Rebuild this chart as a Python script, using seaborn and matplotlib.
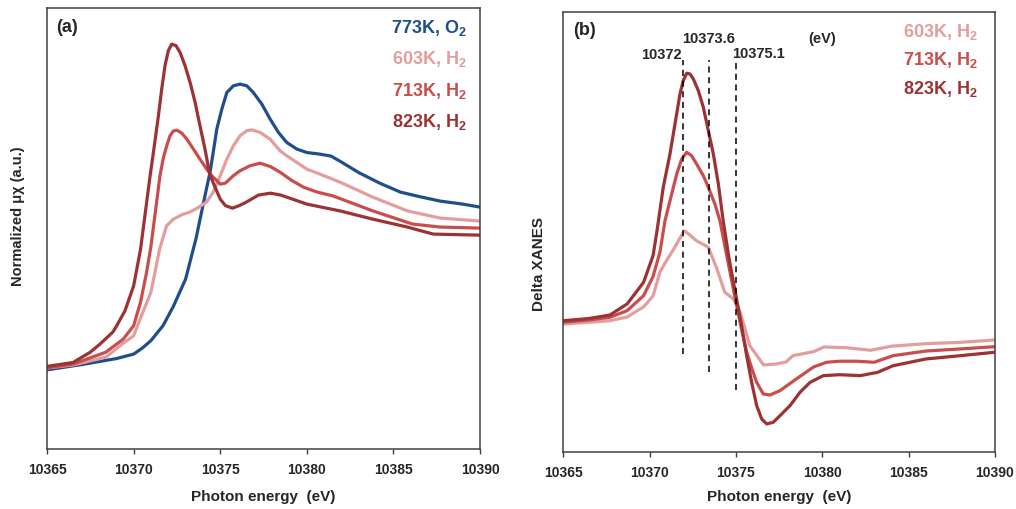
import pandas as pd
import matplotlib
matplotlib.use('Agg')
import matplotlib.pyplot as plt
import seaborn as sns; sns.set_style('ticks')

plt.rcParams['font.family'] = ['Liberation Sans', 'DejaVu Sans']
plt.rcParams['mathtext.fontset'] = 'custom'
plt.rcParams['mathtext.bf'] = 'Liberation Sans:bold'
plt.rcParams['mathtext.rm'] = 'Liberation Sans:bold'
plt.rcParams['mathtext.default'] = 'bf'

# ---- panel (a): normalized XANES ----
E_773 = [10365, 10367, 10369, 10370, 10370.5, 10371, 10371.7, 10372.3, 10373.0, 10373.6,
         10374.2, 10374.41, 10374.6, 10374.8, 10375.09, 10375.38, 10375.76, 10376.14, 10376.53, 10376.91,
         10377.4, 10377.88, 10378.36, 10378.84, 10379.42, 10380.0, 10380.76, 10381.4, 10382.0, 10383.0,
         10384.2, 10385.4, 10386.5, 10387.7, 10389.0, 10390]
mu_773 = [-0.005, 0.03, 0.07, 0.10, 0.14, 0.19, 0.29, 0.42, 0.60, 0.87,
          1.20, 1.311, 1.45, 1.60, 1.733, 1.844, 1.889, 1.90, 1.889, 1.844,
          1.767, 1.667, 1.578, 1.511, 1.467, 1.444, 1.433, 1.42, 1.38, 1.31,
          1.24, 1.18, 1.15, 1.12, 1.10, 1.08]

E_603 = [10365, 10366.5, 10368.4, 10369.4, 10370, 10370.37, 10371, 10371.5, 10371.9, 10372.3,
         10372.8, 10373.25, 10373.7, 10374.2, 10374.6, 10375.0, 10375.38, 10375.76, 10376.14, 10376.53,
         10376.82, 10377.3, 10377.88, 10378.45, 10378.84, 10379.42, 10380.0, 10380.76, 10381.9, 10383.8,
         10385.8, 10387.7, 10390]
mu_603 = [0.007, 0.027, 0.08, 0.173, 0.222, 0.333, 0.513, 0.80, 0.955, 1.00,
          1.03, 1.047, 1.075, 1.113, 1.18, 1.289, 1.40, 1.489, 1.556, 1.589,
          1.595, 1.578, 1.533, 1.456, 1.422, 1.378, 1.333, 1.30, 1.247, 1.147,
          1.055, 1.007, 0.987]

E_713 = [10365, 10366.5, 10368.4, 10369.4, 10370, 10370.4, 10370.75, 10371.0, 10371.3, 10371.52,
         10371.72, 10371.91, 10372.1, 10372.29, 10372.49, 10372.78, 10373.07, 10373.45, 10373.83, 10374.22,
         10374.51, 10375.0, 10375.3, 10375.75, 10376.14, 10376.7, 10377.3, 10377.9, 10378.45, 10379.1,
         10379.8, 10380.6, 10381.5, 10383.8, 10386.1, 10387.7, 10390]
mu_713 = [0.009, 0.033, 0.113, 0.20, 0.289, 0.447, 0.647, 0.82, 1.089, 1.289,
          1.411, 1.489, 1.556, 1.587, 1.593, 1.573, 1.533, 1.467, 1.40, 1.333,
          1.289, 1.233, 1.24, 1.289, 1.322, 1.355, 1.373, 1.35, 1.313, 1.26,
          1.213, 1.18, 1.155, 1.055, 0.967, 0.947, 0.94]

E_823 = [10365, 10366.5, 10367.5, 10368.06, 10368.8, 10369.02, 10369.5, 10370, 10370.4, 10370.95,
         10371.14, 10371.43, 10371.62, 10371.81, 10372.0, 10372.2, 10372.45, 10372.68, 10372.97, 10373.26,
         10373.55, 10373.83, 10374.12, 10374.37, 10374.6, 10375.0, 10375.3, 10375.7, 10376.1, 10376.5,
         10377.2, 10377.9, 10378.5, 10379.0, 10380.0, 10381.9, 10383.8, 10385.8, 10387.3, 10390]
mu_823 = [0.018, 0.044, 0.113, 0.167, 0.247, 0.289, 0.389, 0.555, 0.80, 1.289,
          1.444, 1.689, 1.867, 2.022, 2.122, 2.167, 2.156, 2.111, 2.022, 1.911,
          1.778, 1.622, 1.467, 1.311, 1.24, 1.133, 1.09, 1.073, 1.09, 1.113,
          1.16, 1.173, 1.16, 1.14, 1.10, 1.055, 1.00, 0.947, 0.90, 0.893]

# ---- panel (b): delta XANES ----
Eb_603 = [10365, 10366.5, 10367.7, 10368.7, 10369.65, 10370.2, 10370.6, 10371.0, 10371.4, 10372.0,
          10372.3, 10372.7, 10373.4, 10373.9, 10374.35, 10374.85, 10375.25, 10375.8, 10376.6, 10377.35,
          10377.9, 10378.3, 10379.5, 10380.1, 10381.4, 10382.8, 10384.0, 10386.0, 10388.0, 10390]
d_603 = [-0.007, 0.005, 0.015, 0.04, 0.107, 0.18, 0.34, 0.42, 0.493, 0.615,
         0.59, 0.549, 0.505, 0.36, 0.205, 0.16, 0.071, -0.151, -0.28, -0.273,
         -0.26, -0.218, -0.191, -0.16, -0.165, -0.182, -0.155, -0.138, -0.129, -0.113]

Eb_713 = [10365, 10366.5, 10367.7, 10368.7, 10369.65, 10370.2, 10370.6, 10370.89, 10371.28, 10371.57,
          10371.86, 10372.15, 10372.43, 10372.72, 10373.11, 10373.4, 10373.78, 10374.07, 10374.5, 10375.0,
          10375.3, 10375.62, 10375.91, 10376.2, 10376.58, 10376.97, 10377.55, 10378.5, 10379.5, 10380.25,
          10381.0, 10382.0, 10383.0, 10384.1, 10386.0, 10388.0, 10390]
d_713 = [0.005, 0.02, 0.038, 0.082, 0.182, 0.31, 0.473, 0.682, 0.86, 0.993,
         1.093, 1.138, 1.115, 1.06, 0.982, 0.905, 0.793, 0.682, 0.43, 0.14,
         -0.03, -0.193, -0.30, -0.396, -0.473, -0.48, -0.451, -0.373, -0.293, -0.262,
         -0.255, -0.255, -0.262, -0.218, -0.187, -0.173, -0.158]

Eb_823 = [10365, 10366.5, 10367.7, 10368.7, 10369.65, 10370.2, 10370.41, 10370.79, 10371.18, 10371.47,
          10371.76, 10371.95, 10372.15, 10372.34, 10372.53, 10372.82, 10373.11, 10373.4, 10373.69, 10373.98,
          10374.26, 10374.6, 10375.0, 10375.3, 10375.62, 10375.91, 10376.2, 10376.49, 10376.78, 10377.16,
          10377.55, 10378.13, 10378.71, 10379.29, 10380.06, 10381.0, 10382.2, 10383.2, 10384.1, 10386.0,
          10388.0, 10390]
d_823 = [0.015, 0.03, 0.053, 0.127, 0.271, 0.449, 0.60, 0.905, 1.127, 1.327,
         1.527, 1.616, 1.665, 1.66, 1.627, 1.549, 1.438, 1.282, 1.127, 0.927,
         0.682, 0.43, 0.182, 0.0, -0.218, -0.396, -0.551, -0.64, -0.673, -0.662,
         -0.618, -0.551, -0.462, -0.396, -0.351, -0.345, -0.351, -0.329, -0.285, -0.24,
         -0.218, -0.195]

# marked energies in (b)
peak_E = [10371.92, 10373.45, 10375.0]
peak_labels = ['10372', '10373.6', '10375.1']
dash_bottom = [-0.207, -0.327, -0.445]
dash_top = 1.75

names_a = ['773K, O$_2$', '603K, H$_2$', '713K, H$_2$', '823K, H$_2$']
names_b = names_a[1:]
colors = {'773K, O$_2$': '#1F4E8C', '603K, H$_2$': '#E29D9C',
          '713K, H$_2$': '#C94D4D', '823K, H$_2$': '#9C3234'}
xticks = [10365, 10370, 10375, 10380, 10385, 10390]

df_a = pd.concat([pd.DataFrame({'energy': e, 'mu': m, 'sample': n})
                  for e, m, n in zip([E_773, E_603, E_713, E_823],
                                     [mu_773, mu_603, mu_713, mu_823], names_a)])
df_b = pd.concat([pd.DataFrame({'energy': e, 'delta': d, 'sample': n})
                  for e, d, n in zip([Eb_603, Eb_713, Eb_823],
                                     [d_603, d_713, d_823], names_b)])

fig = plt.figure(figsize=(10.16, 5.10), dpi=100)
ax1 = fig.add_axes([0.0463, 0.1176, 0.4262, 0.864])
ax2 = fig.add_axes([0.5544, 0.1118, 0.4249, 0.8633])

line_kw = dict(linewidth=2.3, solid_joinstyle='round', solid_capstyle='round')
sns.lineplot(data=df_a, x='energy', y='mu', hue='sample', hue_order=names_a,
             palette=colors, legend=False, ax=ax1, **line_kw)
sns.lineplot(data=df_b, x='energy', y='delta', hue='sample', hue_order=names_b,
             palette=colors, legend=False, ax=ax2, **line_kw)

ax2.vlines(peak_E, dash_bottom, dash_top, colors='black', linestyles=(0, (4, 3)), linewidth=1.1)
ax2.text(10370.7, 1.79, peak_labels[0], ha='center', va='center', fontsize=10.5, fontweight='bold')
ax2.text(10373.44, 1.90, peak_labels[1], ha='center', va='center', fontsize=10.5, fontweight='bold')
ax2.text(10376.33, 1.80, peak_labels[2], ha='center', va='center', fontsize=10.5, fontweight='bold')
ax2.text(10379.98, 1.90, '(eV)', ha='center', va='center', fontsize=10.5, fontweight='bold')

for ax, ylim, ylab, ysize, tag, names, ys, lx, lc, xpad in [
        (ax1, (-0.533, 2.405), 'Normalized \u03bc\u03c7 (a.u.)', 10.5, '(a)', names_a,
         [0.957, 0.887, 0.815, 0.745], 0.969, (-0.05, 0.53), 9),
        (ax2, (-0.86, 2.075), 'Delta XANES', 11, '(b)', names_b,
         [0.956, 0.893, 0.827], 0.961, (-0.04, 0.43), 7)]:
    ax.set_xlim(10365, 10390)
    ax.set_ylim(*ylim)
    ax.set_xticks(xticks)
    ax.set_yticks([])
    ax.tick_params(axis='x', direction='out', length=3.5, width=1, color='#404040',
                   pad=6, labelsize=10)
    for lab in ax.get_xticklabels():
        lab.set_fontweight('bold')
    for s in ax.spines.values():
        s.set_visible(True)
        s.set_color('#404040')
        s.set_linewidth(1.1)
    ax.set_xlabel('Photon energy  (eV)', fontsize=11, fontweight='bold', labelpad=xpad)
    ax.set_ylabel(ylab, fontsize=ysize, fontweight='bold')
    ax.yaxis.set_label_coords(*lc)
    ax.text(0.022, 0.96, tag, transform=ax.transAxes, ha='left', va='center',
            fontsize=13, fontweight='bold')
    for n, y in zip(names, ys):
        ax.text(lx, y, n, transform=ax.transAxes, ha='right', va='center',
                fontsize=13, fontweight='bold', color=colors[n])

plt.savefig('out.png', dpi=100)
